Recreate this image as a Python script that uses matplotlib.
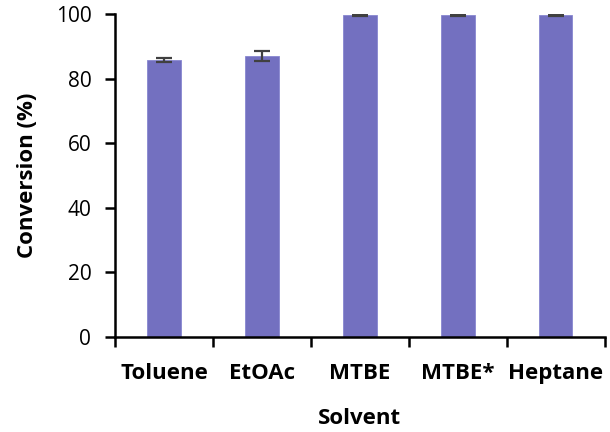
import matplotlib
matplotlib.use('Agg')
import matplotlib.pyplot as plt
import numpy as np

solvents = ['Toluene', 'EtOAc', 'MTBE', 'MTBE*', 'Heptane']
conversion = [85.8, 87.0, 99.7, 99.7, 99.7]
err = [0.7, 1.5, 0.4, 0.4, 0.4]

plt.rcParams['font.family'] = ['Open Sans', 'DejaVu Sans']

fig = plt.figure(figsize=(6.1, 4.32), dpi=100)
ax = fig.add_axes([0.1885, 0.22, 0.803, 0.7476])

x = np.arange(len(solvents))
ax.bar(x, conversion, width=0.34, color='#7370C0', edgecolor='#8886D0', linewidth=0.6,
       yerr=err, error_kw=dict(ecolor='#404040', elinewidth=1.6, capsize=6, capthick=1.6))

ax.set_xlim(-0.5, len(solvents) - 0.5)
ax.set_ylim(0, 100)
ax.set_yticks([0, 20, 40, 60, 80, 100])
ax.tick_params(axis='y', labelsize=15, length=7, width=1.8, direction='out', pad=10)

# category labels centred, ticks at category boundaries
ax.set_xticks(x)
ax.set_xticklabels(solvents, fontsize=16, fontweight='bold')
ax.tick_params(axis='x', length=0, pad=19)
ax.set_xticks(np.arange(-0.5, len(solvents)), minor=True)
ax.tick_params(axis='x', which='minor', length=7, width=1.8, direction='out')

ax.spines['top'].set_visible(False)
ax.spines['right'].set_visible(False)
ax.spines['left'].set_linewidth(1.8)
ax.spines['bottom'].set_linewidth(1.8)

ax.set_ylabel('Conversion (%)', fontsize=16, fontweight='bold', labelpad=13)
ax.set_xlabel('Solvent', fontsize=16, fontweight='bold', labelpad=17)

fig.savefig('out.png', dpi=100)
